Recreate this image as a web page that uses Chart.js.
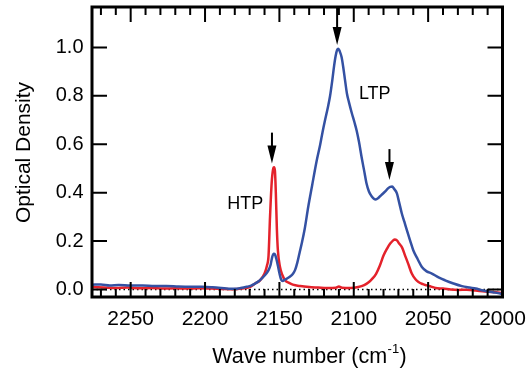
<!DOCTYPE html>
<html>
<head>
<meta charset="utf-8">
<script src="https://cdn.jsdelivr.net/npm/chart.js@4.4.1/dist/chart.umd.min.js"></script>
<style>
  html, body { margin: 0; padding: 0; background: #fff; }
  #wrap { width: 526px; height: 372px; }
</style>
</head>
<body>
<div id="wrap"><canvas id="chart" width="526" height="372"></canvas></div>
<script>
// HTP spectrum (red)
const htpWave = [2276, 2268, 2260, 2252, 2244, 2236, 2228, 2220, 2212, 2204, 2196, 2188, 2181, 2175, 2170,
  2166.5, 2163, 2160, 2158.3, 2157.3, 2156.3, 2155.2, 2154.3, 2153.6, 2153, 2152.4, 2151.7, 2151, 2149.6, 2148,
  2146.2, 2143.5, 2141, 2136, 2130, 2124, 2118, 2112, 2110, 2108, 2102, 2097, 2093, 2090, 2087.5, 2085, 2082.5,
  2080, 2077.5, 2075.5, 2073.5, 2072.5, 2071, 2069.5, 2067.5, 2065.5, 2063.5, 2061, 2058.5, 2056.5, 2053.5, 2051,
  2048, 2045, 2040, 2035, 2030, 2024, 2018, 2012, 2006, 2000];
const htpOD = [0.010, 0.008, 0.006, 0.008, 0.005, 0.006, 0.004, 0.005, 0.004, 0.005, 0.004, 0.002, 0.001, 0.004, 0.010,
  0.024, 0.038, 0.066, 0.10, 0.14, 0.30, 0.44, 0.495, 0.505, 0.49, 0.40, 0.25, 0.16, 0.093, 0.06,
  0.038, 0.027, 0.020, 0.014, 0.010, 0.008, 0.006, 0.007, 0.012, 0.007, 0.006, 0.010, 0.018, 0.030, 0.045, 0.065, 0.098,
  0.14, 0.17, 0.19, 0.203, 0.207, 0.203, 0.19, 0.173, 0.14, 0.108, 0.066, 0.042, 0.031, 0.022, 0.017,
  0.012, 0.006, 0.004, 0.0, -0.002, -0.001, -0.004, -0.008, -0.010, -0.016];

// LTP spectrum (blue)
const ltpWave = [2276, 2270, 2264, 2258, 2250, 2242, 2234, 2226, 2218, 2210, 2202, 2195, 2189, 2184, 2180, 2176, 2172,
  2169, 2166.4, 2163.5, 2160.8, 2158.8, 2157.3, 2156, 2154.8, 2153.8, 2153, 2152, 2151, 2150, 2148.8, 2147.8,
  2146.5, 2145, 2143, 2141, 2139.5, 2138, 2136.5, 2135, 2133, 2130.6, 2128, 2125, 2122.7, 2121, 2119.3, 2117.5,
  2116, 2114.4, 2113.2, 2112.2, 2111.2, 2110.4, 2109.5, 2108.2, 2107, 2105.9, 2104.6, 2103.3, 2101.3, 2099.5, 2098,
  2096.5, 2094.6, 2093, 2091.5, 2089.8, 2088, 2086.5, 2085.2, 2083.5, 2081.5, 2079, 2077, 2075.5, 2074.2, 2072.8,
  2071, 2069.5, 2067.7, 2066, 2064.3, 2062, 2060, 2057, 2054.2, 2051, 2047.5, 2043, 2038.6, 2033, 2027.3, 2022,
  2018, 2013.9, 2010, 2006, 2003, 2000];
const ltpOD = [0.020, 0.021, 0.017, 0.019, 0.016, 0.017, 0.014, 0.014, 0.012, 0.011, 0.011, 0.009, 0.006, 0.003, 0.003, 0.006, 0.011,
  0.016, 0.024, 0.036, 0.052, 0.066, 0.08, 0.10, 0.135, 0.148, 0.145, 0.125, 0.098, 0.068, 0.040, 0.035,
  0.040, 0.045, 0.053, 0.064, 0.08, 0.11, 0.15, 0.19, 0.25, 0.342, 0.43, 0.53, 0.595, 0.65, 0.70, 0.75,
  0.797, 0.866, 0.925, 0.965, 0.99, 0.995, 0.985, 0.96, 0.915, 0.866, 0.81, 0.775, 0.728, 0.69, 0.655,
  0.61, 0.542, 0.49, 0.44, 0.405, 0.385, 0.375, 0.372, 0.378, 0.39, 0.404, 0.418, 0.424, 0.425, 0.415,
  0.397, 0.36, 0.314, 0.28, 0.245, 0.20, 0.162, 0.125, 0.093, 0.075, 0.066, 0.050, 0.038, 0.025, 0.014, 0.008,
  0.004, -0.003, -0.008, -0.012, -0.015, -0.019];

const xTickLabels = [2000, 2050, 2100, 2150, 2200, 2250];
const xMinorTicks = [2010, 2020, 2030, 2040, 2060, 2070, 2080, 2090, 2110, 2120, 2130, 2140, 2160, 2170, 2180, 2190,
  2210, 2220, 2230, 2240, 2260, 2270];
const yTickLabels = [0.0, 0.2, 0.4, 0.6, 0.8, 1.0];

// annotations: arrows and peak labels, in data units
const arrows = [
  { wave: 2155, from: 0.648, to: 0.52 },
  { wave: 2111.2, from: 1.167, to: 1.01 },
  { wave: 2076, from: 0.58, to: 0.452 },
];
const peakLabels = [
  { text: 'HTP', wave: 2172.9, od: 0.331 },
  { text: 'LTP', wave: 2085.9, od: 0.786 },
];

const FONT = '"Liberation Sans", Arial, Helvetica, sans-serif';
const RED = '#e4222b';
const BLUE = '#3451a3';

function toPoints(xs, ys) {
  return xs.map((x, i) => ({ x: x, y: ys[i] }));
}

const framePlugin = {
  id: 'frame',
  beforeDatasetsDraw(chart) {
    const { ctx, chartArea } = chart;
    const y0 = chart.scales.y.getPixelForValue(0);
    ctx.save();
    ctx.strokeStyle = '#000';
    ctx.lineWidth = 1.5;
    ctx.setLineDash([1.5, 3]);
    ctx.beginPath();
    ctx.moveTo(chartArea.left, y0);
    ctx.lineTo(chartArea.right, y0);
    ctx.stroke();
    ctx.restore();
  },
  afterDraw(chart) {
    const { ctx, chartArea } = chart;
    const xs = chart.scales.x;
    const ys = chart.scales.y;
    const { left, right, top, bottom } = chartArea;
    ctx.save();
    ctx.strokeStyle = '#000';
    ctx.lineWidth = 2;
    ctx.beginPath();
    xTickLabels.concat(xMinorTicks).forEach(v => {
      const len = xTickLabels.includes(v) ? 15 : 8;
      const px = xs.getPixelForValue(v);
      ctx.moveTo(px, top);
      ctx.lineTo(px, top + len);
      ctx.moveTo(px, bottom);
      ctx.lineTo(px, bottom - len);
    });
    yTickLabels.forEach(v => {
      const py = ys.getPixelForValue(v);
      ctx.moveTo(left, py);
      ctx.lineTo(left + 15, py);
      ctx.moveTo(right, py);
      ctx.lineTo(right - 15, py);
    });
    ctx.stroke();

    ctx.lineWidth = 3;
    ctx.strokeRect(left, top, right - left, bottom - top);

    // arrows
    ctx.fillStyle = '#000';
    ctx.lineWidth = 2;
    arrows.forEach(a => {
      const px = xs.getPixelForValue(a.wave);
      const y1 = ys.getPixelForValue(a.from);
      const y2 = ys.getPixelForValue(a.to);
      ctx.beginPath();
      ctx.moveTo(px, y1);
      ctx.lineTo(px, y2 - 12);
      ctx.stroke();
      ctx.beginPath();
      ctx.moveTo(px - 4.5, y2 - 18);
      ctx.lineTo(px + 4.5, y2 - 18);
      ctx.lineTo(px, y2);
      ctx.closePath();
      ctx.fill();
    });

    // peak labels
    ctx.font = '18px ' + FONT;
    ctx.textAlign = 'center';
    ctx.textBaseline = 'alphabetic';
    peakLabels.forEach(l => {
      ctx.fillText(l.text, xs.getPixelForValue(l.wave), ys.getPixelForValue(l.od));
    });

    // x axis title with superscript
    const main = 'Wave number (cm';
    const sup = '-1';
    const tail = ')';
    ctx.font = '21.5px ' + FONT;
    const wMain = ctx.measureText(main).width;
    const wTail = ctx.measureText(tail).width;
    ctx.font = '13px ' + FONT;
    const wSup = ctx.measureText(sup).width;
    const total = wMain + wSup + 1 + wTail;
    let tx = 309.5 - total / 2;
    const base = 363;
    ctx.textAlign = 'left';
    ctx.font = '21.5px ' + FONT;
    ctx.fillText(main, tx, base);
    ctx.font = '13px ' + FONT;
    ctx.fillText(sup, tx + wMain + 0.5, base - 10);
    ctx.font = '21.5px ' + FONT;
    ctx.fillText(tail, tx + wMain + wSup + 1, base);

    // y axis title
    ctx.save();
    ctx.translate(29.5, 152.5);
    ctx.rotate(-Math.PI / 2);
    ctx.textAlign = 'center';
    ctx.font = '21px ' + FONT;
    ctx.fillText('Optical Density', 0, 0);
    ctx.restore();

    ctx.restore();
  },
};

new Chart(document.getElementById('chart'), {
  type: 'line',
  data: {
    datasets: [
      {
        label: 'LTP',
        data: toPoints(ltpWave, ltpOD),
        borderColor: BLUE,
        borderWidth: 2.5,
        pointRadius: 0,
        cubicInterpolationMode: 'monotone',
        order: 0,
      },
      {
        label: 'HTP',
        data: toPoints(htpWave, htpOD),
        borderColor: RED,
        borderWidth: 2.5,
        pointRadius: 0,
        cubicInterpolationMode: 'monotone',
        order: 1,
      },
    ],
  },
  options: {
    responsive: false,
    animation: false,
    layout: { padding: { top: 7, right: 23.5, left: 0, bottom: 0 } },
    plugins: { legend: { display: false }, tooltip: { enabled: false } },
    scales: {
      x: {
        type: 'linear',
        reverse: true,
        min: 2000,
        max: 2276,
        grid: { display: false, drawTicks: false },
        border: { display: false },
        afterFit: s => { s.height = 75; s.paddingLeft = 0; s.paddingRight = 0; },
        afterBuildTicks: s => { s.ticks = xTickLabels.map(v => ({ value: v })); },
        ticks: {
          padding: 10,
          color: '#000',
          font: { family: FONT, size: 21 },
          maxRotation: 0,
          callback: v => String(v),
        },
      },
      y: {
        min: -0.031,
        max: 1.167,
        grid: { display: false, drawTicks: false },
        border: { display: false },
        afterFit: s => { s.width = 92; s.paddingTop = 0; s.paddingBottom = 0; },
        afterBuildTicks: s => { s.ticks = yTickLabels.map(v => ({ value: v })); },
        ticks: {
          padding: 8.5,
          color: '#000',
          font: { family: FONT, size: 20 },
          callback: v => Number(v).toFixed(1),
        },
      },
    },
  },
  plugins: [framePlugin],
});
</script>
</body>
</html>
